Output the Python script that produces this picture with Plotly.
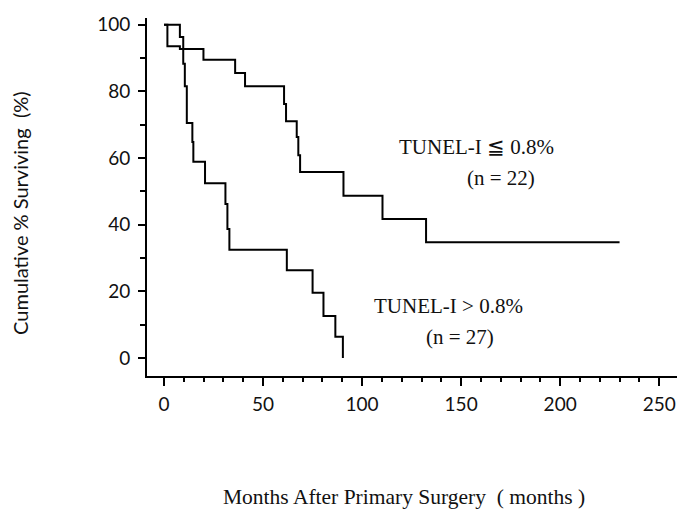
import plotly.graph_objects as go

# Kaplan-Meier step data (months, % surviving)
low_months = [0, 1.7, 8, 19.9, 35.9, 40.9, 60.6, 61.6, 67.0, 67.8, 68.7, 90.6, 110.3, 132.3, 230]
low_surv = [100, 93.5, 92.7, 89.5, 85.5, 81.5, 76.2, 71.0, 66.3, 60.8, 55.8, 48.7, 41.7, 34.7, 34.7]

high_months = [0, 8, 9.7, 10.5, 11.5, 14.3, 14.8, 20.7, 31.0, 32.0, 33.0, 62.0, 75.0, 80.5, 86.5, 90.3]
high_surv = [100, 96.3, 88.3, 81.5, 70.5, 64.8, 58.9, 52.4, 46.2, 38.7, 32.5, 26.3, 19.6, 12.6, 6.4, 0]

x_ticks = [0, 50, 100, 150, 200, 250]
y_ticks = [0, 20, 40, 60, 80, 100]

label_low = ["TUNEL-I ≦ 0.8%", "(n = 22)"]
label_high = ["TUNEL-I > 0.8%", "(n = 27)"]

fig = go.Figure()
fig.add_trace(go.Scatter(x=low_months, y=low_surv, mode="lines", line_shape="hv",
                         line=dict(color="black", width=2), showlegend=False))
fig.add_trace(go.Scatter(x=high_months, y=high_surv, mode="lines", line_shape="hv",
                         line=dict(color="black", width=2), showlegend=False))

tick_font = dict(family="Lato, Open Sans, sans-serif", size=19, color="#111")
serif = dict(family="Liberation Serif, Times New Roman, serif", size=21, color="#111")

fig.update_xaxes(range=[-8.6, 259], tickvals=x_ticks, ticktext=[str(v) for v in x_ticks],
                 showline=True, linecolor="black", linewidth=2, mirror=False,
                 ticks="outside", ticklen=8, tickwidth=2, tickcolor="black",
                 minor=dict(dtick=10, tick0=0, ticks="outside", ticklen=4, tickwidth=2, tickcolor="black"),
                 showgrid=False, zeroline=False, tickfont=tick_font,
                 ticklabeloverflow="allow", ticklabelstandoff=2)
fig.update_yaxes(range=[-5.4, 102], tickvals=y_ticks, ticktext=[str(v) for v in y_ticks],
                 showline=True, linecolor="black", linewidth=2,
                 ticks="outside", ticklen=7, tickwidth=2, tickcolor="black",
                 minor=dict(dtick=10, tick0=0, ticks="outside", ticklen=5, tickwidth=2, tickcolor="black"),
                 showgrid=False, zeroline=False, tickfont=tick_font, ticklabelstandoff=4)

annotations = [
    dict(x=158.0, y=63.3, xref="x", yref="y", text=label_low[0], showarrow=False, font=serif),
    dict(x=170.2, y=54.0, xref="x", yref="y", text=label_low[1], showarrow=False, font=serif),
    dict(x=143.5, y=15.5, xref="x", yref="y", text=label_high[0], showarrow=False, font=serif),
    dict(x=149.5, y=6.3, xref="x", yref="y", text=label_high[1], showarrow=False, font=serif),
    dict(x=0.485, y=-0.338, xref="paper", yref="paper", text="Months After Primary Surgery  ( months )",
         xanchor="center", yanchor="middle",
         showarrow=False, font=dict(family="Liberation Serif, Times New Roman, serif", size=21.5, color="#111")),
    dict(x=-0.24, y=0.455, xref="paper", yref="paper", text="Cumulative % Surviving  (%)",
         xanchor="center", yanchor="middle",
         showarrow=False, textangle=-90, font=dict(family="Lato, Open Sans, sans-serif", size=20, color="#111")),
]

fig.update_layout(width=685, height=514, margin=dict(l=147, r=8, t=18, b=138),
                  paper_bgcolor="white", plot_bgcolor="white", annotations=annotations)

fig.write_html("out.html", config={"displayModeBar": False},
               post_script="document.body.style.margin='0';document.body.style.overflow='hidden';")
